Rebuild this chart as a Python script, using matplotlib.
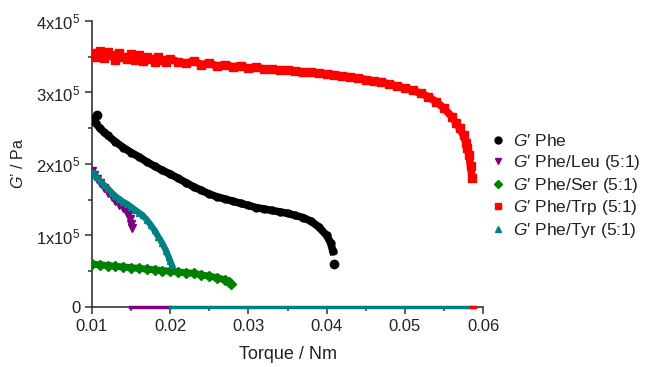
import matplotlib.pyplot as plt
from matplotlib.lines import Line2D
from matplotlib.ticker import MultipleLocator, FuncFormatter

plt.rcParams['font.family'] = ['Liberation Sans', 'DejaVu Sans']
plt.rcParams['mathtext.fontset'] = 'custom'
plt.rcParams['mathtext.rm'] = 'Liberation Sans'
plt.rcParams['mathtext.it'] = 'Liberation Sans:italic'

# torque (Nm) and G' (x1e5 Pa)
phe_t = [0.0100, 0.0105, 0.0110, 0.0115, 0.0120, 0.0130, 0.0140, 0.0150, 0.0160, 0.0170,
         0.0180, 0.0190, 0.0200, 0.0210, 0.0220, 0.0230, 0.0240, 0.0250, 0.0260, 0.0270,
         0.0280, 0.0290, 0.0300, 0.0310, 0.0320, 0.0330, 0.0340, 0.0350, 0.0360, 0.0370,
         0.0380, 0.0390, 0.0400, 0.0405, 0.0408]
phe_g = [2.62, 2.57, 2.50, 2.45, 2.40, 2.31, 2.23, 2.16, 2.10, 2.03,
         1.97, 1.91, 1.86, 1.80, 1.74, 1.68, 1.63, 1.58, 1.54, 1.51,
         1.48, 1.45, 1.42, 1.39, 1.37, 1.35, 1.33, 1.31, 1.28, 1.25,
         1.20, 1.12, 1.00, 0.90, 0.78]
phe_extra_t = [0.0106, 0.0409]
phe_extra_g = [2.69, 0.60]

leu_t = [0.0100, 0.0103, 0.0106, 0.0110, 0.0115, 0.0120, 0.0125, 0.0130, 0.0135, 0.0140,
         0.0143, 0.0146, 0.0148, 0.0150, 0.0151]
leu_g = [1.90, 1.85, 1.79, 1.73, 1.66, 1.60, 1.54, 1.48, 1.43, 1.38,
         1.34, 1.29, 1.23, 1.16, 1.10]
leu_zero_t = [0.0149, 0.0200]

ser_t = [0.0100, 0.0110, 0.0120, 0.0130, 0.0140, 0.0150, 0.0160, 0.0170, 0.0180, 0.0190,
         0.0200, 0.0210, 0.0220, 0.0230, 0.0240, 0.0250, 0.0260, 0.0270, 0.0275, 0.0278]
ser_g = [0.60, 0.59, 0.58, 0.57, 0.56, 0.55, 0.54, 0.53, 0.52, 0.51,
         0.50, 0.49, 0.48, 0.47, 0.45, 0.43, 0.41, 0.38, 0.35, 0.32]

trp_t = [0.0100, 0.0105, 0.0110, 0.0115, 0.0120, 0.0125, 0.0130, 0.0135, 0.0140, 0.0145,
         0.0150, 0.0155, 0.0160, 0.0165, 0.0170, 0.0175, 0.0180, 0.0185, 0.0190, 0.0195,
         0.0200, 0.0210, 0.0220, 0.0230, 0.0240, 0.0250, 0.0260, 0.0270, 0.0280, 0.0290,
         0.0300, 0.0310, 0.0320, 0.0330, 0.0340, 0.0350, 0.0360, 0.0370, 0.0380, 0.0390,
         0.0400, 0.0410, 0.0420, 0.0430, 0.0440, 0.0450, 0.0460, 0.0470, 0.0480, 0.0490,
         0.0500, 0.0510, 0.0520, 0.0530, 0.0540, 0.0550, 0.0560, 0.0565, 0.0570, 0.0575,
         0.0578, 0.0580, 0.0582, 0.0584, 0.0586]
trp_g = [3.55, 3.50, 3.58, 3.48, 3.56, 3.52, 3.45, 3.55, 3.50, 3.47,
         3.54, 3.46, 3.52, 3.44, 3.50, 3.47, 3.43, 3.49, 3.45, 3.42,
         3.47, 3.43, 3.41, 3.44, 3.39, 3.41, 3.37, 3.39, 3.36, 3.37,
         3.34, 3.35, 3.33, 3.33, 3.31, 3.31, 3.30, 3.29, 3.28, 3.27,
         3.26, 3.25, 3.23, 3.22, 3.20, 3.18, 3.16, 3.14, 3.12, 3.09,
         3.06, 3.03, 2.99, 2.94, 2.87, 2.78, 2.66, 2.58, 2.50, 2.40,
         2.30, 2.22, 2.12, 1.97, 1.80]
trp_zero_t = [0.0585, 0.0590]

tyr_t = [0.0100, 0.0103, 0.0106, 0.0110, 0.0115, 0.0120, 0.0125, 0.0130, 0.0135, 0.0140,
         0.0145, 0.0150, 0.0155, 0.0160, 0.0165, 0.0170, 0.0175, 0.0180, 0.0185, 0.0190,
         0.0195, 0.0198, 0.0200, 0.0202]
tyr_g = [1.88, 1.86, 1.82, 1.77, 1.71, 1.66, 1.60, 1.55, 1.51, 1.47,
         1.44, 1.40, 1.36, 1.32, 1.28, 1.22, 1.15, 1.07, 0.98, 0.89,
         0.78, 0.70, 0.64, 0.59]
tyr_zero_t = [0.0200, 0.0585]

labels = ["$G$\u2032 Phe", "$G$\u2032 Phe/Leu (5:1)", "$G$\u2032 Phe/Ser (5:1)",
          "$G$\u2032 Phe/Trp (5:1)", "$G$\u2032 Phe/Tyr (5:1)"]

fig = plt.figure(figsize=(6.45, 3.67), dpi=100)
ax = fig.add_axes([0.1426, 0.1635, 0.6064, 0.7793])

def sc(v):
    return [g * 1e5 for g in v]

# zero baselines first
ax.plot(leu_zero_t, [0, 0], color="#800080", lw=2.5, clip_on=False, zorder=3)
ax.plot(tyr_zero_t, [0, 0], color="#008080", lw=2.5, clip_on=False, zorder=3)
ax.plot(trp_zero_t, [0, 0], color="red", lw=2.5, clip_on=False, zorder=3)

ax.plot(ser_t, sc(ser_g), color="green", lw=5, marker="D", ms=5, zorder=4)
ax.plot(phe_t, sc(phe_g), color="black", lw=5.5, marker="o", ms=5, zorder=4)
ax.plot(phe_extra_t, sc(phe_extra_g), ls="none", color="black", marker="o", ms=6, zorder=4)
ax.plot(trp_t, sc(trp_g), color="red", lw=5.5, marker="s", ms=6, zorder=4)
ax.plot(tyr_t, sc(tyr_g), color="#008080", lw=4.5, marker="^", ms=5, zorder=5)
ax.plot(leu_t, sc(leu_g), color="#800080", lw=0, marker="v", ms=6, zorder=4)

ax.set_xlim(0.01, 0.06)
ax.set_ylim(0, 4e5)
ax.xaxis.set_major_locator(MultipleLocator(0.01))
ax.xaxis.set_minor_locator(MultipleLocator(0.005))
ax.yaxis.set_major_locator(MultipleLocator(1e5))
ax.yaxis.set_minor_locator(MultipleLocator(0.5e5))
ax.xaxis.set_major_formatter(FuncFormatter(lambda v, p: f"{v:.2f}"))
ax.yaxis.set_major_formatter(FuncFormatter(
    lambda v, p: "0" if v == 0 else f"{int(round(v / 1e5))}x10$^5$"))

for s in ["top", "right"]:
    ax.spines[s].set_visible(False)
for s in ["left", "bottom"]:
    ax.spines[s].set_color("#333333")
    ax.spines[s].set_linewidth(1.2)
ax.tick_params(which="major", direction="out", length=5, width=1.1,
               color="#333333", labelsize=12, labelcolor="#222222")
ax.tick_params(which="minor", direction="out", length=3, width=1.1, color="#333333")

ax.set_xlabel("Torque / Nm", fontsize=13, color="#222222", labelpad=9)
ax.set_ylabel("$G$\u2019 / Pa", fontsize=11.5, color="#222222", labelpad=7)

handles = [
    Line2D([], [], ls="none", marker="o", color="black", ms=5),
    Line2D([], [], ls="none", marker="v", color="#800080", ms=5),
    Line2D([], [], ls="none", marker="D", color="green", ms=4.5),
    Line2D([], [], ls="none", marker="s", color="red", ms=5),
    Line2D([], [], ls="none", marker="^", color="#008080", ms=5),
]
fig.legend(handles, labels, loc="upper left", bbox_to_anchor=(491 / 645, 1 - 133 / 367),
           frameon=False, fontsize=12.5, handlelength=0.8, handletextpad=0.47,
           labelspacing=0.22, borderpad=0, borderaxespad=0, labelcolor="#222222")

fig.savefig("out.png", dpi=100)
